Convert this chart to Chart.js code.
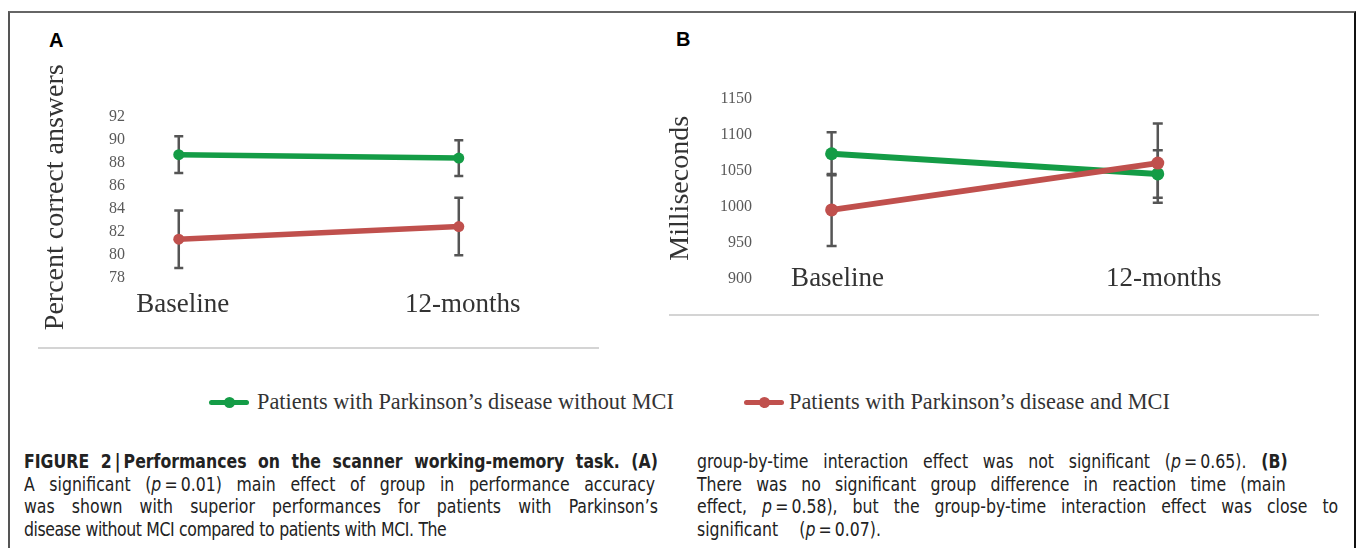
<!DOCTYPE html>
<html>
<head>
<meta charset="utf-8">
<script src="https://cdn.jsdelivr.net/npm/chart.js@4.4.1/dist/chart.umd.min.js"></script>
<style>
  html, body { margin: 0; padding: 0; background: #fff; }
  body { width: 1357px; height: 548px; position: relative; overflow: hidden; }
  .frame { position: absolute; left: 8px; top: 11px; width: 1344px; height: 600px;
           border-top: 2px solid #666; border-left: 2px solid #555; border-right: 2px solid #111; }
  .panel-label { position: absolute; font-family: "Liberation Sans", Arial, sans-serif;
                 font-weight: bold; font-size: 20px; color: #000; line-height: 1; }
  .sep { position: absolute; height: 2px; background: #d4d4d4; }
  .wrap { position: absolute; }
  .mk { position: absolute; height: 5px; width: 40px; border-radius: 3px; }
  .mk .dot { position: absolute; left: 15px; top: -3px; width: 11px; height: 11px; border-radius: 50%; }
  .legtext { position: absolute; font-family: "Liberation Serif", "Times New Roman", serif;
             font-size: 22.3px; color: #333; white-space: nowrap; line-height: 1; }
  /* condensed look: squeeze horizontally, widths below are pre-scale */
  .cap { position: absolute; font-family: "Liberation Sans Narrow", "DejaVu Sans Condensed", "Liberation Sans", Arial, sans-serif;
         font-size: 19px; line-height: 22.7px; color: #222;
         transform: scaleX(0.92); transform-origin: 0 0; }
  .cap div { white-space: nowrap; text-align: justify; text-align-last: justify; }
  .cap b { font-weight: bold; }
</style>
</head>
<body>
<div class="frame"></div>

<div class="panel-label" style="left:49px;top:30px">A</div>
<div class="panel-label" style="left:676px;top:29px">B</div>

<div class="wrap" style="left:20px;top:40px;width:600px;height:310px"><canvas id="chartA"></canvas></div>
<div class="wrap" style="left:660px;top:40px;width:680px;height:290px"><canvas id="chartB"></canvas></div>

<div class="sep" style="left:38px;top:347px;width:561px"></div>
<div class="sep" style="left:669px;top:314px;width:650px"></div>

<!-- shared legend -->
<div class="mk" style="left:209px;top:400px;background:#149c46"><div class="dot" style="background:#149c46"></div></div>
<div class="legtext" style="left:257px;top:391px">Patients with Parkinson’s disease without MCI</div>
<div class="mk" style="left:744px;top:400px;background:#c0504d"><div class="dot" style="background:#c0504d"></div></div>
<div class="legtext" style="left:789px;top:391px">Patients with Parkinson’s disease and MCI</div>

<!-- caption -->
<div class="cap" style="left:24px;top:450px">
  <div style="width:689px"><b>FIGURE 2&#8201;|&#8201;Performances on the scanner working-memory task. (A)</b></div>
  <div style="width:686px">A significant (<i>p</i>&#8201;=&#8201;0.01) main effect of group in performance accuracy</div>
  <div style="width:689px">was shown with superior performances for patients with Parkinson’s</div>
  <div style="width:459px;letter-spacing:-0.5px">disease without MCI compared to patients with MCI. The</div>
</div>
<div class="cap" style="left:697px;top:450px">
  <div style="width:642px">group-by-time interaction effect was not significant (<i>p</i>&#8201;=&#8201;0.65). <b>(B)</b></div>
  <div style="width:640px">There was no significant group difference in reaction time (main</div>
  <div style="width:697px">effect, <i>p</i>&#8201;=&#8201;0.58), but the group-by-time interaction effect was close to</div>
  <div style="width:200px">significant &nbsp;(<i>p</i>&#8201;=&#8201;0.07).</div>
</div>

<script>
// Data.
const timeLabels = ['Baseline', '12-months'];

// Panel A: percent correct answers
const accTicks = [78, 80, 82, 84, 86, 88, 90, 92];
const accNoMci = [88.7, 88.4];
const accNoMciErr = [1.6, 1.55];
const accMci = [81.35, 82.45];
const accMciErr = [2.5, 2.5];

// Panel B: reaction time (ms)
const rtTicks = [900, 950, 1000, 1050, 1100, 1150];
const rtNoMci = [1073, 1045];
const rtNoMciErr = [30, 33];
const rtMci = [995, 1060];
const rtMciErr = [50, 55];

const GREEN = '#149c46';
const RED = '#c0504d';

/**
 * Draws vertical error bars with caps behind the lines.
 */
const errorBarsPlugin = {
  id: 'errorBars',
  beforeDatasetsDraw: function (chart, args, opts) {
    const ctx = chart.ctx;
    const yScale = chart.scales.y;
    ctx.save();
    ctx.strokeStyle = '#555';
    ctx.lineWidth = 2.5;
    chart.data.datasets.forEach(function (ds, i) {
      if (!ds.errors) return;
      const meta = chart.getDatasetMeta(i);
      meta.data.forEach(function (pt, j) {
        const v = ds.data[j].y;
        const top = yScale.getPixelForValue(v + ds.errors[j]);
        const bot = yScale.getPixelForValue(v - ds.errors[j]);
        const half = opts.capWidth / 2;
        ctx.beginPath();
        ctx.moveTo(pt.x, top);
        ctx.lineTo(pt.x, bot);
        ctx.moveTo(pt.x - half, top);
        ctx.lineTo(pt.x + half, top);
        ctx.moveTo(pt.x - half, bot);
        ctx.lineTo(pt.x + half, bot);
        ctx.stroke();
      });
    });
    ctx.restore();
  }
};

function toPoints(values) {
  return values.map(function (v, i) { return { x: i, y: v }; });
}

function makeDataset(label, values, errors, color, order, width, radius) {
  return {
    label: label,
    data: toPoints(values),
    errors: errors,
    borderColor: color,
    backgroundColor: color,
    pointBackgroundColor: color,
    pointBorderWidth: 0,
    pointRadius: radius,
    borderWidth: width,
    tension: 0,
    order: order
  };
}

/**
 * One panel. cfg holds layout numbers for that panel.
 */
function drawPanel(canvasId, datasets, yTicks, yTitle, cfg) {
  const ctx = document.getElementById(canvasId);
  return new Chart(ctx, {
    type: 'line',
    data: { datasets: datasets },
    options: {
      responsive: true,
      maintainAspectRatio: false,
      animation: false,
      events: [],
      layout: { padding: cfg.padding },
      plugins: {
        legend: { display: false },
        tooltip: { enabled: false },
        errorBars: { capWidth: cfg.capWidth }
      },
      scales: {
        x: {
          type: 'linear',
          min: cfg.xMin,
          max: cfg.xMax,
          grid: { display: false, drawTicks: false },
          border: { display: false },
          afterBuildTicks: function (scale) {
            scale.ticks = timeLabels.map(function (t, i) { return { value: i }; });
          },
          afterFit: function (scale) { scale.height = cfg.xHeight; },
          ticks: {
            padding: cfg.xPad,
            mirror: cfg.xMirror,
            labelOffset: cfg.labelOffset,
            maxRotation: 0,
            autoSkip: false,
            color: '#333',
            font: { family: 'Liberation Serif', size: 27 },
            callback: function (value) { return timeLabels[value]; }
          }
        },
        y: {
          min: yTicks[0],
          max: yTicks[yTicks.length - 1],
          grid: { display: false, drawTicks: false },
          border: { display: false },
          afterBuildTicks: function (scale) {
            scale.ticks = yTicks.map(function (v) { return { value: v }; });
          },
          afterFit: function (scale) { scale.width = cfg.yWidth; },
          ticks: {
            padding: 7,
            color: '#595959',
            font: { family: 'Liberation Serif', size: 16 },
            callback: function (value) { return String(value); }
          },
          title: {
            display: true,
            text: yTitle,
            padding: 0,
            color: '#333',
            font: { family: 'Liberation Serif', size: 28 }
          }
        }
      }
    },
    plugins: [errorBarsPlugin]
  });
}

drawPanel('chartA', [
  makeDataset('Patients with Parkinson’s disease without MCI', accNoMci, accNoMciErr, GREEN, 2, 5.5, 5.5),
  makeDataset('Patients with Parkinson’s disease and MCI', accMci, accMciErr, RED, 1, 5.5, 5.5)
], accTicks, 'Percent correct answers', {
  padding: { top: 76.7, left: 19, right: 10, bottom: 0 },
  yWidth: 93,
  xHeight: 72.3,
  xMin: -0.167,
  xMax: 1.54,
  xPad: 11,
  xMirror: false,
  labelOffset: 4,
  capWidth: 9
});

// Panel B labels sit level with the 900 tick; mirror stops them being clipped.
drawPanel('chartB', [
  makeDataset('Patients with Parkinson’s disease without MCI', rtNoMci, rtNoMciErr, GREEN, 2, 6, 6.5),
  makeDataset('Patients with Parkinson’s disease and MCI', rtMci, rtMciErr, RED, 1, 6, 6.5)
], rtTicks, 'Milliseconds', {
  padding: { top: 58.3, left: 3.7, right: 10, bottom: 0 },
  yWidth: 95.3,
  xHeight: 51.7,
  xMin: -0.2226,
  xMax: 1.528,
  xPad: -17,
  xMirror: true,
  labelOffset: 6,
  capWidth: 10
});
</script>
</body>
</html>
